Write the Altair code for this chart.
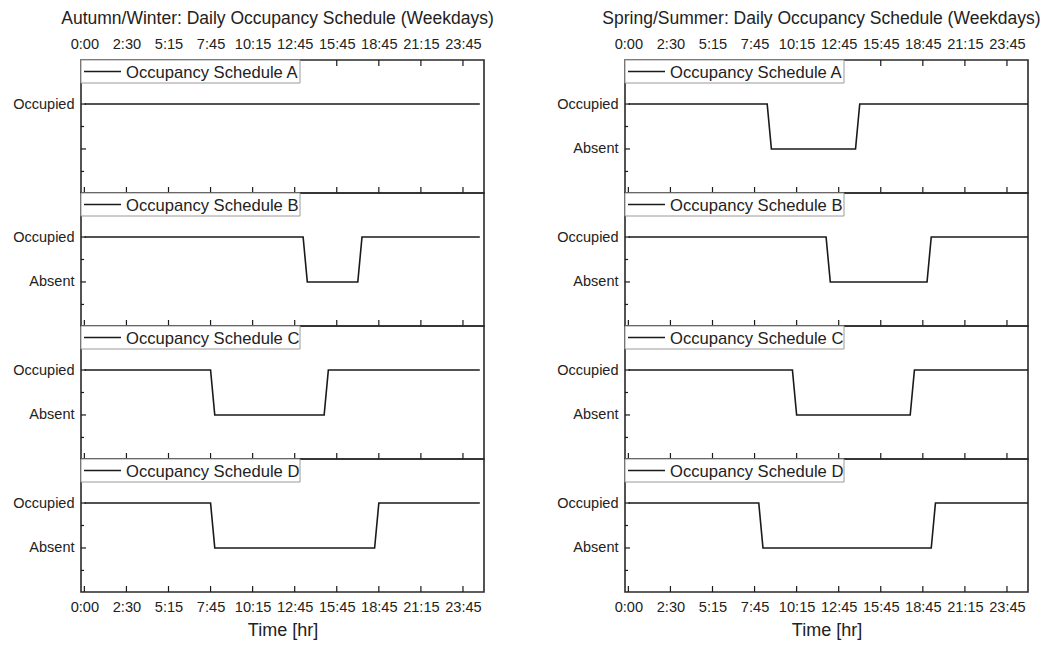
import altair as alt
import pandas as pd

# ---- data (x = row index of 15-minute time steps) ----
TICK_POS = [0, 10, 20, 30, 40, 50, 60, 70, 80, 90]
TICK_LABELS = ["0:00", "2:30", "5:15", "7:45", "10:15", "12:45",
               "15:45", "18:45", "21:15", "23:45"]

STATE_NAMES = {0: "Absent", 1: "Occupied"}

# Autumn/Winter schedules: vertex row indices and states (1 = Occupied, 0 = Absent)
AW_A_X = [0, 94]
AW_A_Y = [1, 1]
AW_B_X = [0, 52, 53, 65, 66, 94]
AW_B_Y = [1, 1, 0, 0, 1, 1]
AW_C_X = [0, 30, 31, 57, 58, 94]
AW_C_Y = [1, 1, 0, 0, 1, 1]
AW_D_X = [0, 30, 31, 69, 70, 94]
AW_D_Y = [1, 1, 0, 0, 1, 1]

# Spring/Summer schedules
SS_A_X = [0, 33, 34, 54, 55, 95]
SS_A_Y = [1, 1, 0, 0, 1, 1]
SS_B_X = [0, 47, 48, 71, 72, 95]
SS_B_Y = [1, 1, 0, 0, 1, 1]
SS_C_X = [0, 39, 40, 67, 68, 95]
SS_C_Y = [1, 1, 0, 0, 1, 1]
SS_D_X = [0, 31, 32, 72, 73, 95]
SS_D_Y = [1, 1, 0, 0, 1, 1]

NAMES = ["Occupancy Schedule A", "Occupancy Schedule B",
         "Occupancy Schedule C", "Occupancy Schedule D"]

TITLE_AW = "Autumn/Winter: Daily Occupancy Schedule (Weekdays)"
TITLE_SS = "Spring/Summer: Daily Occupancy Schedule (Weekdays)"

# ---- styling ----
W, H = 403, 133
XDOM = [-0.8, 95]
YDOM = [-0.98, 1.98]
FONT = "Liberation Sans"
INK = "#1a1a1a"
TXT = "#222222"

label_expr = "[" + ",".join("'%s'" % l for l in TICK_LABELS) + "][round(datum.value/10)]"
ylab_expr = "datum.value == 1 ? '%s' : '%s'" % (STATE_NAMES[1], STATE_NAMES[0])


def panel(xs, ys, name, top=False, bottom=False, title=None, ylabel_vals=(0, 1)):
    xscale = alt.Scale(domain=XDOM, nice=False, zero=False)
    yscale = alt.Scale(domain=YDOM, nice=False, zero=False)
    common = dict(values=TICK_POS, labelExpr=label_expr, ticks=False, domain=False,
                  grid=False, labelFontSize=14.6, labelFont=FONT, labelColor=TXT)
    if top:
        xaxis = alt.Axis(orient="top", title=None, labelPadding=8.5, **common)
    elif bottom:
        xaxis = alt.Axis(orient="bottom", title="Time [hr]", titleFont=FONT,
                         titleFontSize=18, titleFontWeight="normal", titleColor=TXT,
                         titlePadding=8, labelPadding=7, **common)
    else:
        xaxis = None
    yaxis = alt.Axis(values=list(ylabel_vals), labelExpr=ylab_expr, ticks=False,
                     domain=False, grid=False, labelFontSize=14.5, labelFont=FONT,
                     labelColor=TXT, labelPadding=7, title=None)

    X = lambda: alt.X("idx:Q", scale=xscale, axis=xaxis, title=None)
    Y = lambda: alt.Y("val:Q", scale=yscale, axis=yaxis, title=None)

    df = pd.DataFrame({"idx": xs, "val": ys})
    line = alt.Chart(df).mark_line(color=INK, strokeWidth=1.6).encode(x=X(), y=Y())

    xt = alt.Chart(pd.DataFrame({"idx": TICK_POS}))
    layers = [line]
    layers.append(xt.mark_rule(color=INK, strokeWidth=1.2).encode(
        x=X(), y=alt.value(H), y2=alt.value(H - 6)))
    if top:
        layers.append(xt.mark_rule(color=INK, strokeWidth=1.2).encode(
            x=X(), y=alt.value(0), y2=alt.value(6)))
    ymaj = alt.Chart(pd.DataFrame({"val": [0, 1]}))
    layers.append(ymaj.mark_rule(color=INK, strokeWidth=1.2).encode(
        y=Y(), x=alt.value(0), x2=alt.value(5)))
    ymin = alt.Chart(pd.DataFrame({"val": [-0.5, 0.5]}))
    layers.append(ymin.mark_rule(color=INK, strokeWidth=1.2).encode(
        y=Y(), x=alt.value(0), x2=alt.value(3)))

    # legend box in the top-left corner
    lg = alt.Chart(pd.DataFrame({"name": [name]}))
    layers.append(lg.mark_rect(fill="white", stroke="#9a9a9a", strokeWidth=1).encode(
        x=alt.value(0), x2=alt.value(219), y=alt.value(0), y2=alt.value(23)))
    layers.append(lg.mark_rule(color=INK, strokeWidth=1.6).encode(
        x=alt.value(3), x2=alt.value(40), y=alt.value(11.5)))
    layers.append(lg.mark_text(align="left", baseline="middle", fontSize=16.6, font=FONT,
                               color=TXT).encode(
        x=alt.value(45), y=alt.value(12.5), text="name:N"))

    ch = alt.layer(*layers).properties(width=W, height=H)
    if title:
        ch = ch.properties(title=alt.TitleParams(
            text=title, fontSize=17.5, fontWeight="normal", font=FONT, color=TXT,
            anchor="middle", frame="group", offset=9.5, dx=-5))
    return ch


left = alt.vconcat(
    panel(AW_A_X, AW_A_Y, NAMES[0], top=True, title=TITLE_AW, ylabel_vals=(1,)),
    panel(AW_B_X, AW_B_Y, NAMES[1]),
    panel(AW_C_X, AW_C_Y, NAMES[2]),
    panel(AW_D_X, AW_D_Y, NAMES[3], bottom=True),
    spacing=0, bounds="flush",
)
right = alt.vconcat(
    panel(SS_A_X, SS_A_Y, NAMES[0], top=True, title=TITLE_SS),
    panel(SS_B_X, SS_B_Y, NAMES[1]),
    panel(SS_C_X, SS_C_Y, NAMES[2]),
    panel(SS_D_X, SS_D_Y, NAMES[3], bottom=True),
    spacing=0, bounds="flush",
)

chart = alt.hconcat(left, right, spacing=60).properties(
    padding={"left": 3, "right": 1, "top": 0, "bottom": 1}, background="white"
).configure_view(stroke="#2a2a2a", strokeWidth=1.6)

chart.save("out.html", embed_options={"renderer": "svg", "actions": False})
